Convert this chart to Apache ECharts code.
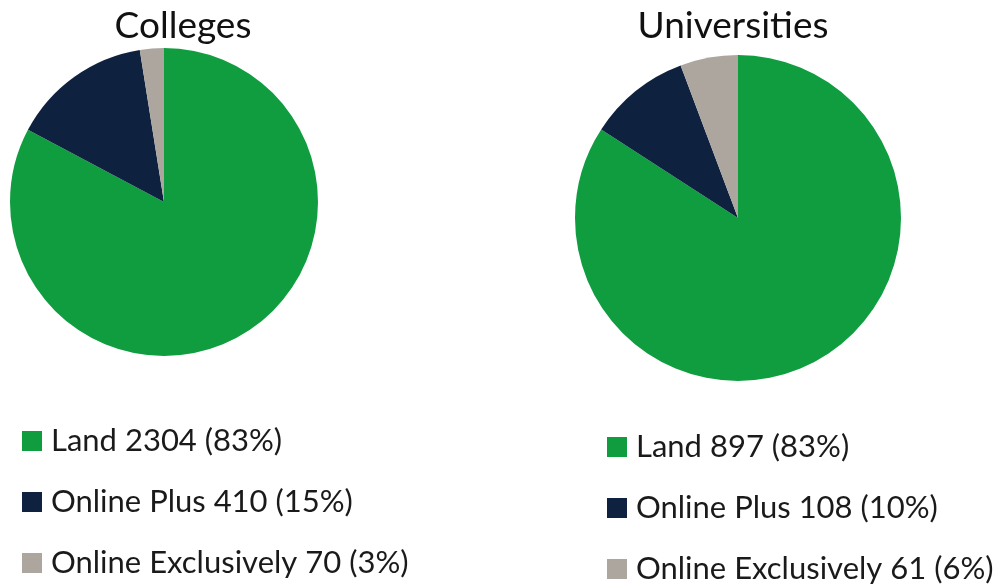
<!DOCTYPE html>
<html>
<head>
<meta charset="utf-8">
<script src="https://cdn.jsdelivr.net/npm/echarts@6/dist/echarts.min.js"></script>
<style>
  html, body { margin: 0; padding: 0; background: #fff; }
  #chart { width: 1007px; height: 588px; }
</style>
</head>
<body>
<div id="chart"></div>
<script>
var categories = ["Land", "Online Plus", "Online Exclusively"];
var collegeValues = [2304, 410, 70];
var collegePct = ["83%", "15%", "3%"];
var universityValues = [897, 108, 61];
var universityPct = ["83%", "10%", "6%"];
var sliceColors = ["#0f9d40", "#0e2240", "#aca69f"];

var chart = echarts.init(document.getElementById("chart"));

function pieData(values){
  var out = [];
  for(var i = 0; i < categories.length; i++){
    out.push({ name: categories[i], value: values[i], itemStyle: { color: sliceColors[i] } });
  }
  return out;
}

function legendText(values, pct){
  return function(name){
    var i = categories.indexOf(name);
    return name + " " + values[i] + " (" + pct[i] + ")";
  };
}

var font = "Lato, 'Open Sans', sans-serif";

function makeLegend(left, top, values, pct){
  return {
    orient: "vertical",
    left: left,
    top: top,
    width: 400,
    height: 200,
    padding: 0,
    icon: "rect",
    itemWidth: 20,
    itemHeight: 20,
    itemGap: 29,
    selectedMode: false,
    data: categories,
    formatter: legendText(values, pct),
    textStyle: { fontFamily: font, fontSize: 31, lineHeight: 32, color: "#1a1a1a", padding: [0, 0, 0, 4] }
  };
}

chart.setOption({
  backgroundColor: "#fff",
  animation: false,
  title: [
    { text: "Colleges", left: 178, top: 3, textAlign: "center",
      textStyle: { fontFamily: font, fontSize: 37, fontWeight: "normal", color: "#111" } },
    { text: "Universities", left: 728, top: 3, textAlign: "center",
      textStyle: { fontFamily: font, fontSize: 37, fontWeight: "normal", color: "#111" } }
  ],
  legend: [
    makeLegend(22, 425, collegeValues, collegePct),
    makeLegend(607, 431, universityValues, universityPct)
  ],
  series: [
    {
      name: "Colleges",
      type: "pie",
      center: [164, 202],
      radius: 154,
      startAngle: 90,
      clockwise: true,
      label: { show: false },
      labelLine: { show: false },
      silent: true,
      data: pieData(collegeValues)
    },
    {
      name: "Universities",
      type: "pie",
      center: [738, 218],
      radius: 163,
      startAngle: 90,
      clockwise: true,
      label: { show: false },
      labelLine: { show: false },
      silent: true,
      data: pieData(universityValues)
    }
  ]
});
</script>
</body>
</html>
